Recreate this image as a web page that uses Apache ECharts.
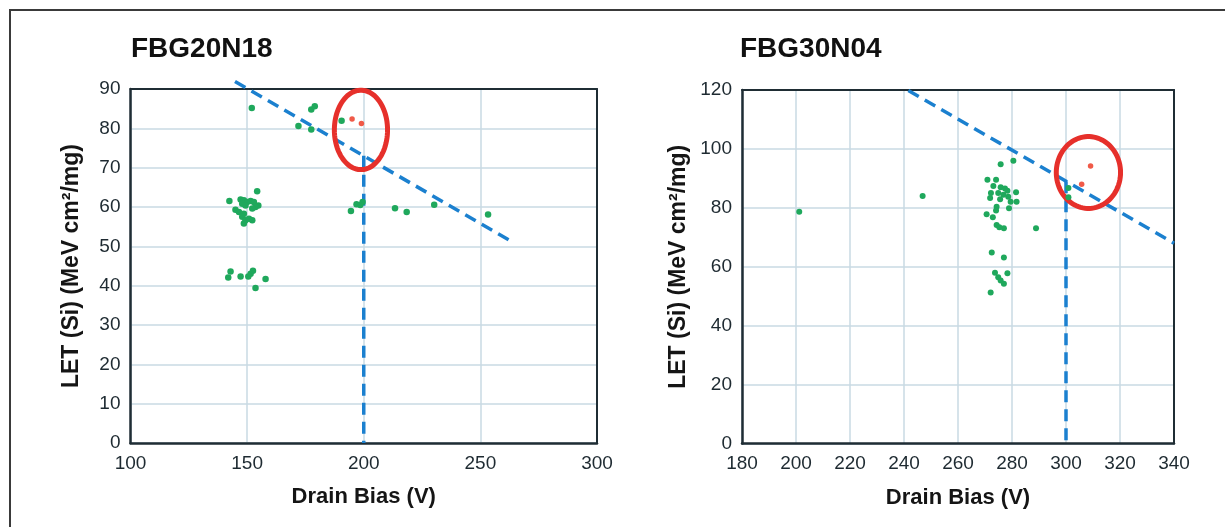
<!DOCTYPE html>
<html>
<head>
<meta charset="utf-8">
<script src="https://cdn.jsdelivr.net/npm/echarts@6/dist/echarts.min.js"></script>
<style>
html,body{margin:0;padding:0;background:#fff;}
#chart{width:1225px;height:527px;}
</style>
</head>
<body>
<div id="chart"></div>
<script>
// ---------- data ----------
const leftTitle = 'FBG20N18';
const rightTitle = 'FBG30N04';
const xName = 'Drain Bias (V)';
const yName = 'LET (Si) (MeV cm²/mg)';

// left chart (FBG20N18)
const leftGreen = [
  [152,85.2],[177.5,84.8],[179,85.6],[172,80.6],[177.5,79.7],[190.5,81.9],
  [154.3,64],[142.4,61.5],[147.2,61.9],[148.6,61.7],[150,61.3],[147.9,60.8],[149.3,60.4],
  [151.5,61.5],[152.9,61.3],[154.8,60.4],[153.6,60],[152.2,59.6],[145,59.3],[146.5,58.7],
  [148.6,58.3],[147.9,57.5],[149.3,56.6],[148.6,55.8],[152.2,56.6],[150.8,57],
  [142.9,43.6],[141.9,42.1],[147.2,42.3],[150.5,42.3],[151.5,43],[152.5,43.8],[157.9,41.7],[153.6,39.4],
  [194.5,59],[196.9,60.7],[199.5,61.3],[198.5,60.5],[213.4,59.7],[218.4,58.7],[230.2,60.6],[253.3,58.1]
];
const leftRed = [[195,82.4],[199,81.2]];
const leftCircle = [[198.8,79.6,11.4,10.1]];
const leftDiag = [[144.8,91.9],[264.1,51.0]];
const leftVert = [[200,73],[200,0]];

// right chart (FBG30N04)
const rightGreen = [
  [201.2,78.7],[246.9,84],
  [280.5,96],[275.8,94.8],[270.9,89.5],[274.1,89.5],[273.1,87.4],[275.8,87],[277.4,86.6],
  [278.3,85.8],[281.5,85.3],[272.2,85],[274.9,85],[276.8,84.4],[278.6,83.8],[271.9,83.3],
  [275.6,82.9],[279.5,82.1],[281.7,82.1],[274.3,80.4],[278.9,79.9],[274.1,79.1],[270.6,77.8],
  [272.9,76.8],[274.3,74.2],[277,73.1],[275.3,73.4],[288.9,73.1],[272.5,64.8],[277,63.1],
  [273.7,58],[278.3,57.8],[274.9,56.4],[275.8,55.3],[277,54.2],[272.1,51.3],
  [300.9,86.7],[300.9,83.6]
];
const rightRed = [[309.1,94.2],[305.8,88]];
const rightCircle = [[308.3,92.0,11.9,12.2]];
const rightDiag = [[241.6,119.8],[340,68.0]];
const rightVert = [[300,89],[300,0]];

const leftX = {min:100, max:300, interval:50};
const leftY = {min:0, max:90, interval:10};
const rightX = {min:180, max:340, interval:20};
const rightY = {min:0, max:120, interval:20};

// ---------- styles ----------
const FONT = '"Liberation Sans", Arial, Helvetica, sans-serif';
const GREEN = '#1fa85c';
const RED = '#f05a48';
const BLUE = '#1b80cf';
const RING = '#e6302b';
const GRIDC = '#c9dae3';
const AXC = '#1f2d34';
const LBL = '#1e2a31';

function xAxis(idx, cfg){
  return {
    type:'value', gridIndex:idx, min:cfg.min, max:cfg.max, interval:cfg.interval,
    name:xName, nameLocation:'middle', nameGap:43,
    nameTextStyle:{fontFamily:FONT, fontSize:22, fontWeight:'bold', color:'#151515'},
    axisLine:{show:true, onZero:false, lineStyle:{color:AXC, width:2.5}}, axisTick:{show:false},
    axisLabel:{fontFamily:FONT, fontSize:19, color:LBL, margin:11},
    splitLine:{show:true, lineStyle:{color:GRIDC, width:1.5}}, z:3
  };
}
function yAxis(idx, cfg, gap){
  return {
    type:'value', gridIndex:idx, min:cfg.min, max:cfg.max, interval:cfg.interval,
    name:yName, nameLocation:'middle', nameGap:gap, nameRotate:90,
    nameTextStyle:{fontFamily:FONT, fontSize:23, fontWeight:'bold', color:'#151515'},
    axisLine:{show:true, onZero:false, lineStyle:{color:AXC, width:2.5}}, axisTick:{show:false},
    axisLabel:{fontFamily:FONT, fontSize:19, color:LBL, margin:10},
    splitLine:{show:true, lineStyle:{color:GRIDC, width:1.5}}, z:3
  };
}
// frame-only axes (top / right edges)
function frameX(idx, cfg){
  return {type:'value', gridIndex:idx, position:'top', min:cfg.min, max:cfg.max, interval:cfg.interval,
    axisLine:{show:true, onZero:false, lineStyle:{color:AXC, width:2}}, axisTick:{show:false},
    axisLabel:{show:false}, splitLine:{show:false}, z:3};
}
function frameY(idx, cfg){
  return {type:'value', gridIndex:idx, position:'right', min:cfg.min, max:cfg.max, interval:cfg.interval,
    axisLine:{show:true, onZero:false, lineStyle:{color:AXC, width:2}}, axisTick:{show:false},
    axisLabel:{show:false}, splitLine:{show:false}, z:3};
}
function ellipseSeries(idx, data){
  return {
    type:'custom', xAxisIndex:idx, yAxisIndex:idx, data:data, clip:false, silent:true, z:5,
    renderItem:function(params, api){
      const cx = api.value(0), cy = api.value(1), rx = api.value(2), ry = api.value(3);
      const c = api.coord([cx, cy]);
      const p = api.coord([cx + rx, cy + ry]);
      const Rx = Math.abs(p[0]-c[0]), Ry = Math.abs(c[1]-p[1]);
      const pts = [];
      for (let i=0;i<90;i++){
        const t = i/90*Math.PI*2;
        pts.push([c[0]+Rx*Math.cos(t), c[1]+Ry*Math.sin(t)]);
      }
      return {type:'polygon', shape:{points:pts}, style:{fill:'none', stroke:RING, lineWidth:5}};
    }
  };
}
function dashSeries(idx, data){
  return {
    type:'line', xAxisIndex:idx, yAxisIndex:idx, data:data, symbol:'none', clip:false, silent:true, z:4,
    lineStyle:{color:BLUE, width:3.5, type:[12,7]}
  };
}
function scatter(idx, data, color, size){
  return {
    type:'scatter', xAxisIndex:idx, yAxisIndex:idx, data:data, symbolSize:size, z:6,
    itemStyle:{color:color, opacity:1}
  };
}

const chart = echarts.init(document.getElementById('chart'), null, {renderer:'canvas'});
chart.setOption({
  animation:false,
  backgroundColor:'#ffffff',
  title:[
    {text:leftTitle, left:131, top:35, padding:0, textStyle:{fontFamily:FONT, fontSize:28, fontWeight:'bold', color:'#111'}},
    {text:rightTitle, left:740, top:35, padding:0, textStyle:{fontFamily:FONT, fontSize:28, fontWeight:'bold', color:'#111'}}
  ],
  graphic:[
    {type:'rect', shape:{x:10, y:10, width:1300, height:700}, style:{fill:'none', stroke:'#3a3a3a', lineWidth:2}, silent:true}
  ],
  grid:[
    {left:130.5, top:89, width:466.5, height:354, show:true, borderWidth:0, backgroundColor:'#fff'},
    {left:742, top:90, width:432, height:353.5, show:true, borderWidth:0, backgroundColor:'#fff'}
  ],
  xAxis:[xAxis(0, leftX), xAxis(1, rightX), frameX(0, leftX), frameX(1, rightX)],
  yAxis:[yAxis(0, leftY, 47), yAxis(1, rightY, 52), frameY(0, leftY), frameY(1, rightY)],
  series:[
    dashSeries(0, leftDiag), dashSeries(0, leftVert),
    scatter(0, leftGreen, GREEN, 6.5), scatter(0, leftRed, RED, 5.5),
    ellipseSeries(0, leftCircle),
    dashSeries(1, rightDiag), dashSeries(1, rightVert),
    scatter(1, rightGreen, GREEN, 6), scatter(1, rightRed, RED, 5.5),
    ellipseSeries(1, rightCircle)
  ]
});
</script>
</body>
</html>
